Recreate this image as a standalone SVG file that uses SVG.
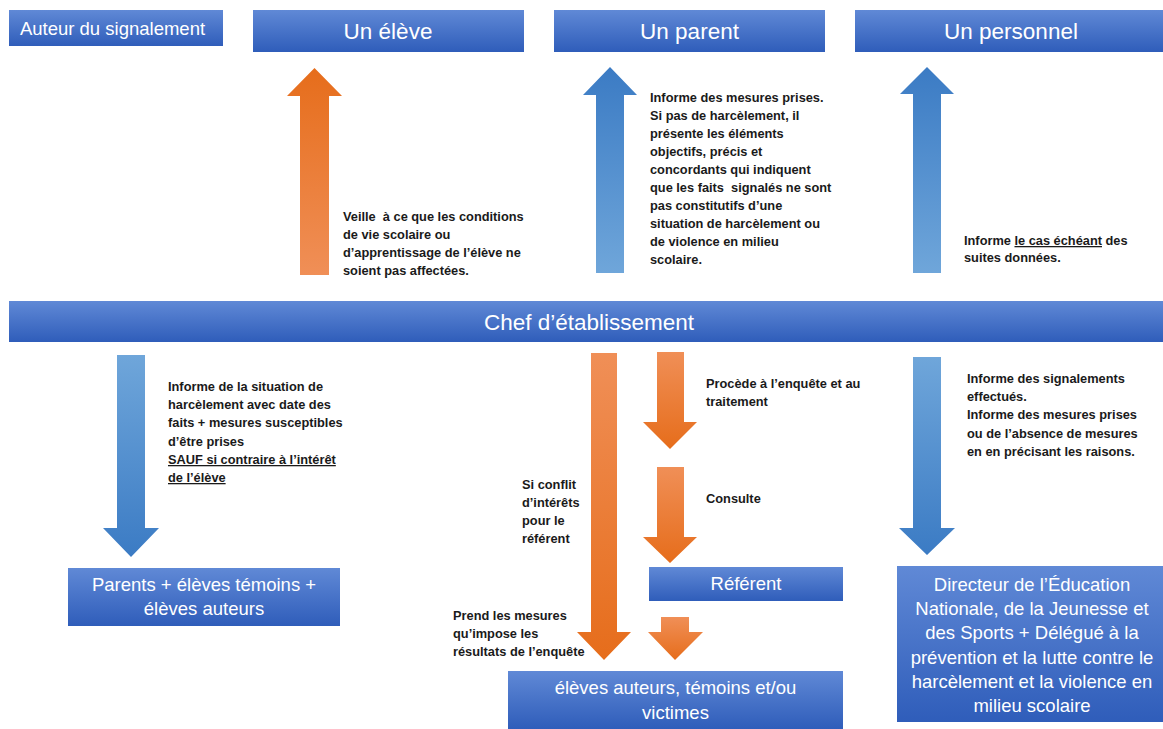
<svg xmlns="http://www.w3.org/2000/svg" width="1163" height="729" viewBox="0 0 1163 729">
<defs>
<linearGradient id="boxG" x1="0" y1="0" x2="0" y2="1">
<stop offset="0" stop-color="#6089d6"/><stop offset="1" stop-color="#2f5dba"/>
</linearGradient>
<linearGradient id="blueUp" x1="0" y1="0" x2="0" y2="1">
<stop offset="0" stop-color="#3b7bc4"/><stop offset="1" stop-color="#6fa6da"/>
</linearGradient>
<linearGradient id="blueDown" x1="0" y1="0" x2="0" y2="1">
<stop offset="0" stop-color="#6fa6da"/><stop offset="1" stop-color="#3b7bc4"/>
</linearGradient>
<linearGradient id="orUp" x1="0" y1="0" x2="0" y2="1">
<stop offset="0" stop-color="#e66d1b"/><stop offset="1" stop-color="#f08f57"/>
</linearGradient>
<linearGradient id="orDown" x1="0" y1="0" x2="0" y2="1">
<stop offset="0" stop-color="#f08f57"/><stop offset="1" stop-color="#e66d1b"/>
</linearGradient>
</defs>
<style>
.box{fill:url(#boxG);}
.bt{font-family:"Liberation Sans",Arial,sans-serif;fill:#ffffff;text-anchor:middle;font-size:18.5px;}
.bt23{font-size:22.5px;}
.lab{font-family:"Liberation Sans",Arial,sans-serif;font-weight:bold;font-size:12.8px;fill:#1a1a1a;}
.u{text-decoration:underline;}
</style>
<rect width="1163" height="729" fill="#ffffff"/>

<g id="auteur"><rect class="box" x="9" y="10" width="214" height="36"/><text class="bt" x="112.5" y="34.5">Auteur du signalement</text></g>
<g id="eleve"><rect class="box" x="253" y="10" width="271" height="42"/><text class="bt bt23" x="388" y="39">Un élève</text></g>
<g id="parent"><rect class="box" x="554" y="10" width="271" height="42"/><text class="bt bt23" x="689.5" y="39">Un parent</text></g>
<g id="personnel"><rect class="box" x="855" y="10" width="308" height="42"/><text class="bt bt23" x="1011" y="39">Un personnel</text></g>
<g id="chef"><rect class="box" x="9" y="301" width="1154" height="41"/><text class="bt" style="font-size:22.5px" x="589" y="330">Chef d’établissement</text></g>
<g id="parents-eleves"><rect class="box" x="68" y="568" width="272" height="58"/><text class="bt" x="204" y="591">Parents + élèves témoins +</text><text class="bt" x="204" y="615">élèves auteurs</text></g>
<g id="referent"><rect class="box" x="649" y="567" width="194" height="34"/><text class="bt" x="746" y="590">Référent</text></g>
<g id="eleves-victimes"><rect class="box" x="508" y="671" width="335" height="58"/><text class="bt" x="675.5" y="694">élèves auteurs, témoins et/ou</text><text class="bt" x="675.5" y="719">victimes</text></g>
<g id="directeur"><rect class="box" x="897" y="566" width="266" height="156"/>
<text class="bt" x="1032" y="591">Directeur de l’Éducation</text>
<text class="bt" x="1032" y="615">Nationale, de la Jeunesse et</text>
<text class="bt" x="1032" y="639">des Sports + Délégué à la</text>
<text class="bt" x="1032" y="664">prévention et la lutte contre le</text>
<text class="bt" x="1032" y="688">harcèlement et la violence en</text>
<text class="bt" x="1032" y="712">milieu scolaire</text></g>

<g id="connectors">
<polygon fill="url(#orUp)" points="314.5,68 342,96 329,96 329,275 300,275 300,96 287,96"/>
<polygon fill="url(#blueUp)" points="610,67 637,95 624,95 624,273 596,273 596,95 583,95"/>
<polygon fill="url(#blueUp)" points="927,67 954,94 941,94 941,273 913,273 913,94 900,94"/>
<polygon fill="url(#blueDown)" points="117,355 145,355 145,528 159,528 131,557 103,528 117,528"/>
<polygon fill="url(#orDown)" points="591,353 617,353 617,632 631,632 604,660 577,632 591,632"/>
<polygon fill="url(#orDown)" points="657,352 684,352 684,422 697,422 670,449 643,422 657,422"/>
<polygon fill="url(#orDown)" points="657,467 684,467 684,537 697,537 670,563 643,537 657,537"/>
<polygon fill="url(#orDown)" points="661,617 689,617 689,632 703,632 675,660 648,632 661,632"/>
<polygon fill="url(#blueDown)" points="913,357 941,357 941,528 955,528 927,555 899,528 913,528"/>
</g>

<g id="labels">
<text class="lab" x="343" y="221" xml:space="preserve">Veille  à ce que les conditions</text>
<text class="lab" x="343" y="239">de vie scolaire ou</text>
<text class="lab" x="343" y="257">d’apprentissage de l’élève ne</text>
<text class="lab" x="343" y="275">soient pas affectées.</text>

<text class="lab" x="650" y="102">Informe des mesures prises.</text>
<text class="lab" x="650" y="120">Si pas de harcèlement, il</text>
<text class="lab" x="650" y="138">présente les éléments</text>
<text class="lab" x="650" y="156">objectifs, précis et</text>
<text class="lab" x="650" y="174">concordants qui indiquent</text>
<text class="lab" x="650" y="192" xml:space="preserve">que les faits  signalés ne sont</text>
<text class="lab" x="650" y="210">pas constitutifs d’une</text>
<text class="lab" x="650" y="228">situation de harcèlement ou</text>
<text class="lab" x="650" y="246">de violence en milieu</text>
<text class="lab" x="650" y="264">scolaire.</text>

<text class="lab" x="964" y="245">Informe <tspan class="u">le cas échéant</tspan> des</text>
<text class="lab" x="964" y="262">suites données.</text>

<text class="lab" x="168" y="391">Informe de la situation de</text>
<text class="lab" x="168" y="409">harcèlement avec date des</text>
<text class="lab" x="168" y="427">faits + mesures susceptibles</text>
<text class="lab" x="168" y="446">d’être prises</text>
<text class="lab u" x="168" y="464">SAUF si contraire à l’intérêt</text>
<text class="lab u" x="168" y="482">de l’élève</text>

<text class="lab" x="706" y="388">Procède à l’enquête et au</text>
<text class="lab" x="706" y="406">traitement</text>
<text class="lab" x="706" y="503">Consulte</text>

<text class="lab" x="522" y="489">Si conflit</text>
<text class="lab" x="522" y="507">d’intérêts</text>
<text class="lab" x="522" y="525">pour le</text>
<text class="lab" x="522" y="543">référent</text>

<text class="lab" x="453" y="620">Prend les mesures</text>
<text class="lab" x="453" y="638">qu’impose les</text>
<text class="lab" x="453" y="656">résultats de l’enquête</text>

<text class="lab" x="967" y="383">Informe des signalements</text>
<text class="lab" x="967" y="401">effectués.</text>
<text class="lab" x="967" y="419">Informe des mesures prises</text>
<text class="lab" x="967" y="438">ou de l’absence de mesures</text>
<text class="lab" x="967" y="456">en en précisant les raisons.</text>
</g>
</svg>
